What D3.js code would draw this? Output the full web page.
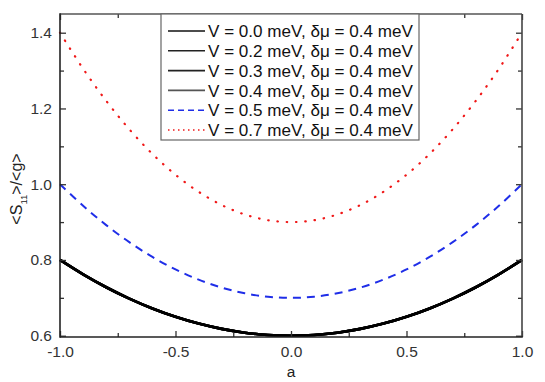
<!DOCTYPE html>
<html><head><meta charset="utf-8">
<script src="https://cdn.jsdelivr.net/npm/d3@7"></script>
<style>body{margin:0;background:#fff}svg{display:block}text{font-family:"Liberation Sans",Arial,sans-serif}</style>
</head><body><svg id="c" width="545" height="382"></svg>
<script>
const aValues = [-1,-0.9,-0.8,-0.7,-0.6,-0.5,-0.4,-0.3,-0.2,-0.1,0,0.1,0.2,0.3,0.4,0.5,0.6,0.7,0.8,0.9,1];
const blackValues = [0.8,0.762,0.728,0.698,0.672,0.65,0.632,0.618,0.608,0.602,0.6,0.602,0.608,0.618,0.632,0.65,0.672,0.698,0.728,0.762,0.8];
const blueValues = [1.0,0.943,0.892,0.847,0.808,0.775,0.748,0.727,0.712,0.703,0.7,0.703,0.712,0.727,0.748,0.775,0.808,0.847,0.892,0.943,1.0];
const redValues = [1.4,1.305,1.22,1.145,1.08,1.025,0.98,0.945,0.92,0.905,0.9,0.905,0.92,0.945,0.98,1.025,1.08,1.145,1.22,1.305,1.4];
const legendLabels = ["V = 0.0 meV, δμ = 0.4 meV","V = 0.2 meV, δμ = 0.4 meV","V = 0.3 meV, δμ = 0.4 meV","V = 0.4 meV, δμ = 0.4 meV","V = 0.5 meV, δμ = 0.4 meV","V = 0.7 meV, δμ = 0.4 meV"];
const seriesData = [blackValues, blackValues, blackValues, blackValues, blueValues, redValues];
const xTicks = [-1,-0.5,0,0.5,1];
const xTickLabels = ["-1.0","-0.5","0.0","0.5","1.0"];
const xMinor = [-0.75,-0.25,0.25,0.75];
const yTicks = [0.6,0.8,1.0,1.2,1.4];
const yTickLabels = ["0.6","0.8","1.0","1.2","1.4"];
const yMinor = [0.7,0.9,1.1,1.3];

const styles = [
  {c:"#000",w:2.6,d:null},{c:"#000",w:2.6,d:null},{c:"#000",w:2.6,d:null},{c:"#111",w:2.6,d:null},
  {c:"#1f2ee8",w:2,d:"8,6"},{c:"#f01818",w:2.2,d:"0.5,8.8"}
];
const legendStyles = [
  {c:"#111",w:1.6,d:null},{c:"#222",w:1.6,d:null},{c:"#222",w:1.6,d:null},{c:"#555",w:1.6,d:null},
  {c:"#1f2ee8",w:1.6,d:"6,4"},{c:"#f01818",w:1.6,d:"1.5,3.5"}
];

const L=60,R=522,T=14,B=337;
const svg=d3.select("#c");
const x=d3.scaleLinear().domain([-1,1]).range([L,R]);
const y=d3.scaleLinear().domain([0.5966,1.4494]).range([B,T]);

const line=d3.line().x((d,i)=>x(aValues[i])).y(d=>y(d)).curve(d3.curveCatmullRom);
const g=svg.append("g");
[5,4,3,2,1,0].forEach(k=>{
  const s=styles[k];
  g.append("path").datum(seriesData[k]).attr("d",line).attr("fill","none")
   .attr("stroke",s.c).attr("stroke-width",s.w).attr("stroke-dasharray",s.d)
   .attr("stroke-linecap",k===5?"round":"butt");
});

const axColor="#333";
function styleAxis(sel){
  sel.select(".domain").remove();
  sel.selectAll(".tick line").attr("stroke",axColor).attr("stroke-width",1.3);
  sel.selectAll(".tick text").attr("fill","#333").attr("font-size",15.5);
}
svg.append("g").attr("transform",`translate(0,${B})`).call(d3.axisBottom(x).tickValues(xTicks).tickFormat((d,i)=>xTickLabels[i]).tickSizeInner(-6).tickPadding(9)).call(styleAxis);
svg.append("g").attr("transform",`translate(0,${B})`).call(d3.axisBottom(x).tickValues(xMinor).tickFormat("").tickSizeInner(-4)).call(styleAxis);
svg.append("g").attr("transform",`translate(0,${T})`).call(d3.axisTop(x).tickValues(xTicks).tickFormat("").tickSizeInner(-6)).call(styleAxis);
svg.append("g").attr("transform",`translate(0,${T})`).call(d3.axisTop(x).tickValues(xMinor).tickFormat("").tickSizeInner(-4)).call(styleAxis);
svg.append("g").attr("transform",`translate(${L},0)`).call(d3.axisLeft(y).tickValues(yTicks).tickFormat((d,i)=>yTickLabels[i]).tickSizeInner(-6).tickPadding(8)).call(styleAxis);
svg.append("g").attr("transform",`translate(${L},0)`).call(d3.axisLeft(y).tickValues(yMinor).tickFormat("").tickSizeInner(-4)).call(styleAxis);
svg.append("g").attr("transform",`translate(${R},0)`).call(d3.axisRight(y).tickValues(yTicks).tickFormat("").tickSizeInner(-6)).call(styleAxis);
svg.append("g").attr("transform",`translate(${R},0)`).call(d3.axisRight(y).tickValues(yMinor).tickFormat("").tickSizeInner(-4)).call(styleAxis);

// frame: left/bottom darker, top/right grey
svg.append("line").attr("x1",L).attr("x2",R).attr("y1",T).attr("y2",T).attr("stroke","#555").attr("stroke-width",1.6);
svg.append("line").attr("x1",R).attr("x2",R).attr("y1",T).attr("y2",B).attr("stroke","#444").attr("stroke-width",1.6);
svg.append("line").attr("x1",L).attr("x2",L).attr("y1",T-0.8).attr("y2",B+0.8).attr("stroke","#222").attr("stroke-width",1.6);
svg.append("line").attr("x1",L).attr("x2",R+0.8).attr("y1",B).attr("y2",B).attr("stroke","#222").attr("stroke-width",1.6);

// legend
const lx=161, ly=14, lw=258, lh=126;
const lg=svg.append("g");
lg.append("rect").attr("x",lx).attr("y",ly).attr("width",lw).attr("height",lh).attr("fill","#fff").attr("stroke","#666").attr("stroke-width",1.2);
legendLabels.forEach((t,i)=>{
  const yy=ly+17+i*19.8;
  const s=legendStyles[i];
  lg.append("line").attr("x1",lx+7).attr("x2",lx+44).attr("y1",yy).attr("y2",yy)
    .attr("stroke",s.c).attr("stroke-width",s.w).attr("stroke-dasharray",s.d);
  const tx=lg.append("text").attr("x",lx+47).attr("y",yy).attr("dy","0.36em").attr("font-size",15).attr("fill","#111").text(t);
  const w=tx.node().getComputedTextLength();
  tx.attr("font-size",15*205/w);
});

svg.append("text").attr("x",(L+R)/2).attr("y",377).attr("text-anchor","middle").attr("font-size",15.5).attr("fill","#222").text("a");
const yt=svg.append("text").attr("transform",`translate(22,189) rotate(-90)`).attr("text-anchor","middle").attr("font-size",16).attr("fill","#222");
yt.append("tspan").text("<S");
yt.append("tspan").attr("font-size",9.5).attr("dy",4.5).text("11");
yt.append("tspan").attr("dy",-4.5).text(">/<g>");
</script></body></html>
